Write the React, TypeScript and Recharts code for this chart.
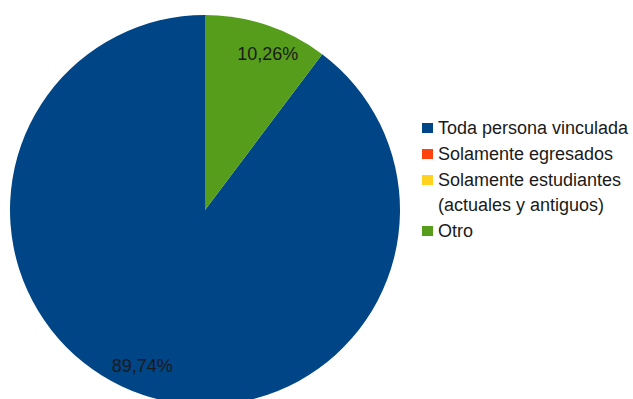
import React from "react";
import { PieChart, Pie, Cell, Legend } from "recharts";

const categories = [
  "Toda persona vinculada",
  "Solamente egresados",
  "Solamente estudiantes\n(actuales y antiguos)",
  "Otro",
];
const values = [89.74, 0, 0, 10.26];
const labels = ["89,74%", "", "", "10,26%"];
const colors = ["#004586", "#ff420e", "#ffd320", "#579d1c"];

const data = categories.map((name, i) => ({ name, value: values[i], label: labels[i] }));

const FONT = "'Liberation Sans', Arial, sans-serif";
const RAD = Math.PI / 180;

const renderLabel = (props: any) => {
  const { cx, cy, midAngle, outerRadius, index } = props;
  if (!labels[index]) return null;
  const r = outerRadius * 0.86;
  const a = midAngle - 3.5;
  const x = cx + r * Math.cos(-a * RAD);
  const y = cy + r * Math.sin(-a * RAD);
  return (
    <text
      x={x}
      y={y}
      textAnchor="middle"
      dominantBaseline="central"
      fill="#1a1a1a"
      fontSize={18}
      fontFamily={FONT}
    >
      {labels[index]}
    </text>
  );
};

const renderLegend = () => (
  <div style={{ fontFamily: FONT, fontSize: 18, color: "#1a1a1a" }}>
    {categories.map((c, i) => (
      <div key={c} style={{ display: "flex", alignItems: "flex-start", marginBottom: 1 }}>
        <span
          style={{
            width: 11,
            height: 10,
            background: colors[i],
            marginTop: 7,
            marginRight: 5,
            flexShrink: 0,
          }}
        />
        <span style={{ whiteSpace: "pre", lineHeight: "25px" }}>{c}</span>
      </div>
    ))}
  </div>
);

export default function App() {
  return (
    <div style={{ position: "absolute", left: 0, top: 0, background: "#fff" }}>
      <PieChart width={633} height={399} margin={{ top: 0, right: 0, bottom: 0, left: 0 }}>
        <Pie
          data={data}
          dataKey="value"
          nameKey="name"
          cx={205}
          cy={210}
          outerRadius={195}
          startAngle={90}
          endAngle={450}
          stroke="none"
          label={renderLabel}
          labelLine={false}
          isAnimationActive={false}
        >
          {data.map((d, i) => (
            <Cell key={d.name} fill={colors[i]} />
          ))}
        </Pie>
        <Legend
          content={renderLegend}
          wrapperStyle={{ position: "absolute", left: 422, top: 116, width: 211 }}
        />
      </PieChart>
    </div>
  );
}
